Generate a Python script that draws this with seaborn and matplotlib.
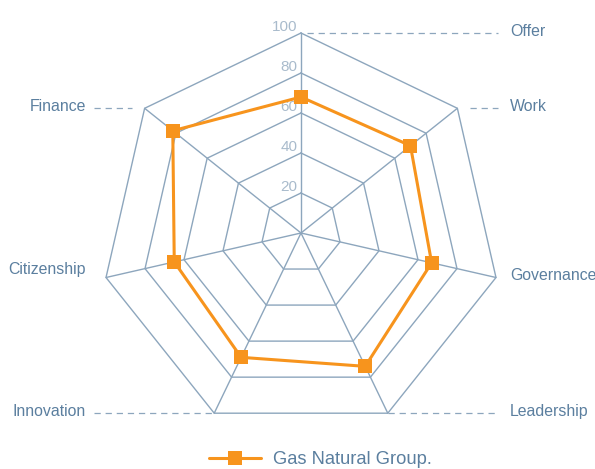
import numpy as np
import pandas as pd
import matplotlib
matplotlib.use("Agg")
import matplotlib.pyplot as plt
import seaborn as sns

categories = ["Offer", "Work", "Governance", "Leadership", "Innovation", "Citizenship", "Finance"]
values = [68, 70, 67, 74, 69, 65, 82]
ring_levels = [20, 40, 60, 80, 100]
series_name = "Gas Natural Group."

sns.set_theme(style="white")
plt.rcParams["font.family"] = ["Liberation Sans", "DejaVu Sans"]
plt.rcParams["lines.scale_dashes"] = False

GRID = "#8da6bd"
LABEL = "#5b7f9f"
TICK = "#a9bbcc"
ORANGE = "#f7941d"

n = len(categories)
theta = np.arange(n) * 2 * np.pi / n  # clockwise from top


def xy(r, th):
    return r * np.sin(th), r * np.cos(th)


fig = plt.figure(figsize=(5.95, 4.69), dpi=100)
ax = fig.add_axes([0, 0, 1, 1])
ax.set_xlim(-150.5, 147)
ax.set_ylim(-118, 116.5)
ax.set_aspect("equal")
ax.axis("off")

# rings
th_closed = np.append(theta, theta[0])
for lv in ring_levels:
    gx, gy = xy(lv, th_closed)
    ax.plot(gx, gy, color=GRID, lw=1.0, zorder=1)
# spokes
for th in theta:
    sx, sy = xy(np.array([0, 100]), th)
    ax.plot(sx, sy, color=GRID, lw=1.0, zorder=1)

# tick labels
for lv in ring_levels:
    ax.text(-1.8, lv + 0.8, str(lv), ha="right", va="baseline",
            fontsize=11, color=TICK, zorder=2)

# category labels with dashed leaders
right_col, left_col = 104.5, -107.5
leader_end_r, leader_end_l = 98.5, -103.5
leader_gap = {"Offer": 3, "Work": 6.5, "Governance": None, "Leadership": 0,
              "Innovation": 0, "Citizenship": None, "Finance": 6.5}
label_lift = {"Citizenship": 4.0}
for cat, th in zip(categories, theta):
    vx, vy = xy(100, th)
    ty = vy + label_lift.get(cat, 0.8)
    if vx >= -1e-9:
        ax.text(right_col, ty, cat, ha="left", va="center", fontsize=11.4, color=LABEL)
        g = leader_gap[cat]
        if g is not None:
            ax.plot([vx + g, leader_end_r], [vy, vy], color=GRID, lw=0.9,
                    linestyle=(0, (4.5, 3.5)), zorder=1)
    else:
        ax.text(left_col, ty, cat, ha="right", va="center", fontsize=11.4, color=LABEL)
        g = leader_gap[cat]
        if g is not None:
            ax.plot([leader_end_l, vx - g], [vy, vy], color=GRID, lw=0.9,
                    linestyle=(0, (4.5, 3.5)), zorder=1)

# data series
vals_closed = values + [values[0]]
dx, dy = xy(np.array(vals_closed, dtype=float), th_closed)
df = pd.DataFrame({"x": dx, "y": dy})
sns.lineplot(data=df, x="x", y="y", sort=False, estimator=None, ax=ax,
             color=ORANGE, lw=2.2, marker="s", markersize=10,
             markeredgewidth=0, label=series_name, zorder=3)

leg = ax.legend(loc="center", bbox_to_anchor=(0.538, 0.02),
                bbox_transform=fig.transFigure, frameon=False,
                fontsize=13.2, handlelength=2.85, handletextpad=0.65)
for t in leg.get_texts():
    t.set_color(LABEL)

fig.savefig("out.png", dpi=100)
